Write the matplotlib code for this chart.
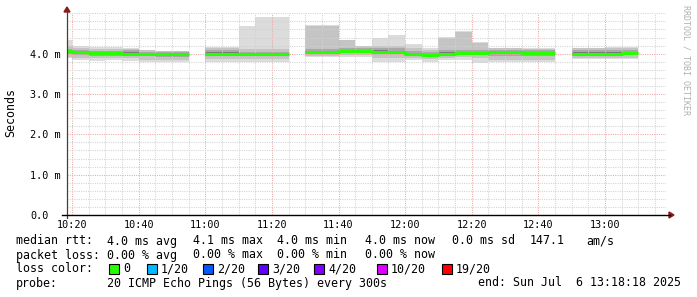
import numpy as np
import matplotlib
matplotlib.use("Agg")
import matplotlib.pyplot as plt
from matplotlib.lines import Line2D
from matplotlib.patches import Polygon

# ---------------- data (5-minute bins, ms) ----------------
bin_start = ["10:15", "10:20", "10:25", "10:30", "10:35", "10:40", "10:45", "10:50", "10:55",
             "11:00", "11:05", "11:10", "11:15", "11:20", "11:25", "11:30", "11:35", "11:40",
             "11:45", "11:50", "11:55", "12:00", "12:05", "12:10", "12:15", "12:20", "12:25",
             "12:30", "12:35", "12:40", "12:45", "12:50", "12:55", "13:00", "13:05"]
nan = float("nan")
median = [4.06, 4.03, 4.01, 4.01, 4.00, 3.99, 3.99, 3.99, nan,
          3.99, 3.99, 3.98, 3.98, 3.98, nan, 4.04, 4.04, 4.06,
          4.07, 4.05, 4.04, 3.99, 3.97, 4.00, 4.01, 4.02, 4.03,
          4.03, 4.02, 4.02, nan, 3.99, 3.99, 4.00, 4.02]
ping_min = [3.88, 3.83, 3.82, 3.83, 3.82, 3.79, 3.79, 3.79, nan,
            3.80, 3.80, 3.79, 3.79, 3.79, nan, 3.92, 3.92, 3.92,
            3.92, 3.80, 3.80, 3.84, 3.79, 3.84, 3.85, 3.77, 3.79,
            3.79, 3.79, 3.79, nan, 3.86, 3.86, 3.86, 3.86]
ping_p10 = [3.92, 3.88, 3.88, 3.89, 3.88, 3.85, 3.85, 3.85, nan,
            3.87, 3.87, 3.86, 3.86, 3.86, nan, 3.95, 3.95, 3.96,
            3.96, 3.90, 3.90, 3.90, 3.86, 3.90, 3.92, 3.88, 3.84,
            3.84, 3.84, 3.84, nan, 3.90, 3.90, 3.90, 3.90]
ping_p25 = [3.98, 3.96, 3.95, 3.95, 3.95, 3.93, 3.92, 3.92, nan,
            3.94, 3.94, 3.93, 3.93, 3.93, nan, 3.99, 3.99, 4.01,
            4.01, 3.98, 3.98, 3.95, 3.92, 3.95, 3.97, 3.96, 3.95,
            3.95, 3.95, 3.95, nan, 3.95, 3.95, 3.95, 3.96]
ping_p40 = [4.03, 4.00, 3.99, 3.99, 3.99, 3.97, 3.97, 3.97, nan,
            3.97, 3.97, 3.96, 3.96, 3.96, nan, 4.02, 4.02, 4.04,
            4.04, 4.03, 4.02, 3.98, 3.96, 3.99, 4.00, 4.00, 4.01,
            4.01, 4.00, 4.00, nan, 3.98, 3.98, 3.99, 4.00]
ping_p60 = [4.08, 4.05, 4.03, 4.03, 4.04, 4.02, 4.01, 4.01, nan,
            4.03, 4.03, 4.01, 4.01, 4.01, nan, 4.07, 4.07, 4.09,
            4.10, 4.08, 4.07, 4.02, 4.00, 4.04, 4.05, 4.05, 4.05,
            4.05, 4.05, 4.05, nan, 4.03, 4.03, 4.04, 4.05]
ping_p75 = [4.12, 4.09, 4.07, 4.07, 4.08, 4.05, 4.04, 4.04, nan,
            4.09, 4.09, 4.05, 4.05, 4.05, nan, 4.12, 4.12, 4.14,
            4.14, 4.13, 4.13, 4.06, 4.04, 4.09, 4.10, 4.10, 4.09,
            4.09, 4.09, 4.09, nan, 4.08, 4.08, 4.09, 4.10]
ping_p90 = [4.20, 4.14, 4.12, 4.12, 4.11, 4.08, 4.06, 4.06, nan,
            4.13, 4.13, 4.12, 4.12, 4.12, nan, 4.68, 4.68, 4.33,
            4.19, 4.18, 4.20, 4.15, 4.10, 4.40, 4.53, 4.26, 4.13,
            4.13, 4.12, 4.12, nan, 4.13, 4.13, 4.14, 4.14]
ping_max = [4.33, 4.20, 4.16, 4.16, 4.13, 4.10, 4.07, 4.07, nan,
            4.16, 4.16, 4.68, 4.91, 4.91, nan, 4.70, 4.70, 4.35,
            4.20, 4.39, 4.45, 4.25, 4.15, 4.41, 4.55, 4.28, 4.15,
            4.15, 4.13, 4.13, nan, 4.15, 4.15, 4.16, 4.16]

x_tick_labels = ["10:20", "10:40", "11:00", "11:20", "11:40", "12:00", "12:20", "12:40", "13:00"]
y_ticks = [0, 1, 2, 3, 4]
y_tick_labels = ["0.0", "1.0 m", "2.0 m", "3.0 m", "4.0 m"]

loss_labels = ["0", "1/20", "2/20", "3/20", "4/20", "10/20", "19/20"]
loss_colors = ["#26ff00", "#00b8ff", "#0059ff", "#5e00ff", "#7e00ff", "#dd00ff", "#ff0000"]

def to_min(s):
    h, m = s.split(":")
    return int(h) * 60 + int(m)

W, H = 697, 297
fig = plt.figure(figsize=(W / 100, H / 100), dpi=100)
fig.patch.set_facecolor("white")

# plot area in pixels
L, R, T, B = 67, 666, 13.3, 215
ax = fig.add_axes([L / W, 1 - B / H, (R - L) / W, (B - T) / H])
ax.set_facecolor("white")

starts = np.array([to_min(s) for s in bin_start], dtype=float)
step = 5.0

def arr(a):
    return np.array(a, dtype=float)

layers = [
    (ping_min, ping_max, "#dcdcdc"),
    (ping_p10, ping_p90, "#c4c4c4"),
    (ping_p25, ping_p75, "#a8a8a8"),
    (ping_p40, ping_p60, "#7a7a7a"),
]
for lo, hi, col in layers:
    lo, hi = arr(lo), arr(hi)
    ok = ~np.isnan(lo)
    ax.bar(starts[ok], (hi - lo)[ok], bottom=lo[ok], width=step, align="edge",
           color=col, linewidth=0, antialiased=False, zorder=1)

med = arr(median)
xs = np.append(starts, starts[-1] + step)
ys = np.append(med, med[-1])
ax.step(xs, ys, where="post", color="#26ff00", lw=2.2, zorder=4, solid_capstyle="butt")

x0 = to_min("10:18") + 0.5
x1 = to_min("13:18") + 0.3
ax.set_xlim(x0, x1)
ax.set_ylim(0, 5.0)

ax.set_xticks([to_min(s) for s in x_tick_labels])
ax.set_xticklabels(x_tick_labels)
ax.set_xticks(np.arange(to_min("10:20"), x1, 5), minor=True)
ax.set_yticks(y_ticks)
ax.set_yticklabels(y_tick_labels)
ax.set_yticks(np.arange(0, 5.01, 0.2), minor=True)

ax.set_axisbelow(False)
ax.grid(which="minor", color="#d2d2d2", linestyle=(0, (1, 1.2)), lw=0.75, zorder=2)
ax.grid(which="major", color="#eaa8a8", linestyle=(0, (1, 1.2)), lw=0.75, zorder=2.1)

for sp in ax.spines.values():
    sp.set_visible(False)

mono = "DejaVu Sans Mono"
ax.tick_params(axis="both", which="both", length=0)
ax.tick_params(axis="x", pad=3.6, labelsize=7.3, labelcolor="#000000")
ax.tick_params(axis="y", pad=26.6, labelsize=7.3, labelcolor="#000000")
for lab in ax.get_xticklabels() + ax.get_yticklabels():
    lab.set_fontfamily(mono)
for lab in ax.get_yticklabels():
    lab.set_horizontalalignment("left")

def fx(px):
    return px / W

def fy(py):
    return 1 - py / H

# axis lines with arrows
fig.add_artist(Line2D([fx(L), fx(L)], [fy(218), fy(10)], color="#404040", lw=0.9))
fig.add_artist(Line2D([fx(62), fx(670)], [fy(B), fy(B)], color="#000000", lw=1.0))
arrow_col = "#8b1a1a"
fig.add_artist(Polygon([[fx(L - 3), fy(12)], [fx(L + 3), fy(12)], [fx(L), fy(7)]],
                       closed=True, color=arrow_col, transform=fig.transFigure))
fig.add_artist(Polygon([[fx(669), fy(B - 3)], [fx(669), fy(B + 3)], [fx(674), fy(B)]],
                       closed=True, color=arrow_col, transform=fig.transFigure))

# axis title and watermark
fig.text(fx(11), fy(113), "Seconds", rotation=90, ha="center", va="center",
         fontsize=8.4, family=mono, color="#000000")
fig.text(fx(686), fy(60), "RRDTOOL / TOBI OETIKER", rotation=270, ha="center", va="center",
         fontsize=6.0, family=mono, color="#b0b0b0")

fs = 8.4
def txt(x, y, s):
    fig.text(fx(x), fy(y), s, ha="left", va="center", fontsize=fs, family=mono, color="#000000")

# legend rows
row1 = [(16, "median rtt:"), (107, "4.0 ms avg"), (193, "4.1 ms max"), (277, "4.0 ms min"),
        (365, "4.0 ms now"), (452, "0.0 ms sd"), (530, "147.1"), (586, "am/s")]
row2 = [(16, "packet loss:"), (107, "0.00 % avg"), (193, "0.00 % max"), (277, "0.00 % min"),
        (365, "0.00 % now")]
for x, s in row1:
    txt(x, 241, s)
for x, s in row2:
    txt(x, 255, s)

txt(16, 269, "loss color:")
box_x = [109, 147, 203, 258, 314, 377, 442]
for bx, lab, col in zip(box_x, loss_labels, loss_colors):
    fig.add_artist(Polygon([[fx(bx), fy(264)], [fx(bx + 10), fy(264)],
                            [fx(bx + 10), fy(274)], [fx(bx), fy(274)]],
                           closed=True, facecolor=col, edgecolor="#000000", lw=0.8,
                           transform=fig.transFigure))
    txt(bx + 14, 269, lab)

txt(16, 283, "probe:")
txt(107, 283, "20 ICMP Echo Pings (56 Bytes) every 300s")
txt(478, 283, "end: Sun Jul  6 13:18:18 2025")

fig.savefig("out.png", dpi=100)
